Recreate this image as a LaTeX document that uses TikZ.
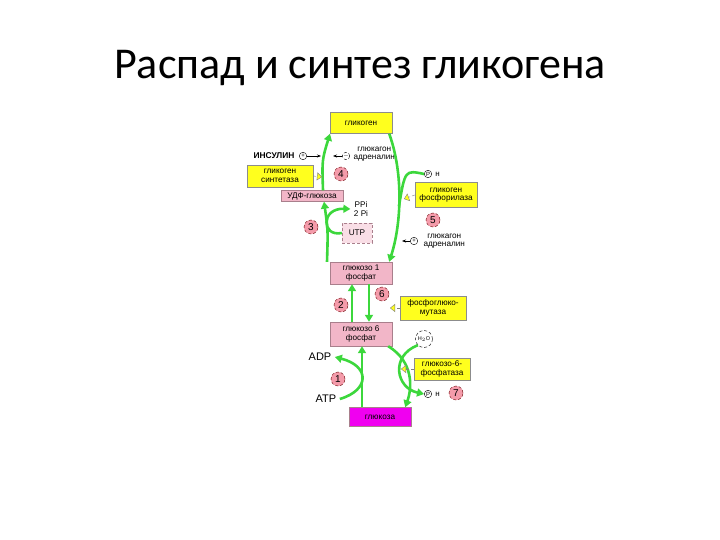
\documentclass[tikz,border=0pt]{standalone}
\usepackage{fontspec}
\setmainfont{Carlito}
\newfontfamily\schemefont{Liberation Sans}
\usetikzlibrary{arrows.meta}
\definecolor{zel}{RGB}{60,215,60}
\definecolor{zhelt}{RGB}{255,255,30}
\definecolor{roz}{RGB}{242,182,200}
\definecolor{malin}{RGB}{240,0,240}
\begin{document}
\begin{tikzpicture}[x=1pt,y=-1pt,
      every node/.style={align=center, font=\schemefont\fontsize{8.2}{8.4}\selectfont},
      zhbox/.style={fill=zhelt, draw=black!45, thin, inner sep=1pt},
      rbox/.style={fill=roz, draw=roz!70!black, thin, inner sep=1pt},
      num/.style={circle, fill=roz!85!red, draw=red!40!black, densely dashed, thin, inner sep=0pt, minimum size=14pt, font=\schemefont\fontsize{10}{10}\selectfont},
      znak/.style={circle, draw, thin, inner sep=0pt, minimum size=7.5pt, font=\schemefont\fontsize{6}{6}\selectfont},
      gr/.style={-{Triangle[length=7pt,width=8pt]}, line width=2.6pt, draw=zel},
      grl/.style={line width=2.6pt, draw=zel},
      zhstrel/.style={-{Triangle[length=5pt,width=8pt,fill=zhelt]}, draw=black!50, densely dashed, thin},
      reg/.style={-{Stealth[length=4pt]}, thick}
    ]
      \useasboundingbox (0,0) rectangle (720,540);

      % Title
      \node (title) at (360,68) {\fontspec{Carlito}\fontsize{44}{48}\selectfont Распад и синтез гликогена};

      % Substances
      \node[zhbox, minimum width=62pt, minimum height=21pt] (glyk) at (361,123) {гликоген};
      \node[rbox, minimum width=62pt, minimum height=11pt] (udpg) at (312,196) {УДФ-глюкоза};
      \node[rbox, fill=roz!45, densely dashed, minimum width=30pt, minimum height=20pt] (utp) at (357,233) {UTP};
      \node (ppi) at (361,209) {PPi\\2 Pi};
      \node[rbox, minimum width=62pt, minimum height=22pt] (g1p) at (361,273) {глюкозо 1\\фосфат};
      \node[rbox, minimum width=62pt, minimum height=24pt] (g6p) at (361,334) {глюкозо 6\\фосфат};
      \node[rbox, fill=malin, minimum width=62pt, minimum height=19pt] (glu) at (380,417) {глюкоза};
      \node (adp) at (320,357) {\fontsize{11}{11}\selectfont ADP};
      \node (atp) at (326,399) {\fontsize{11}{11}\selectfont ATP};
      \node[znak, label={[font=\schemefont\fontsize{8}{8}\selectfont]right:н}] (pi1) at (428,174) {P};
      \node[znak, label={[font=\schemefont\fontsize{8}{8}\selectfont]right:н}] (pi2) at (428,394) {P};
      \node[circle, draw, densely dashed, thin, inner sep=0pt, minimum size=17pt, font=\schemefont\fontsize{5.5}{5.5}\selectfont] (voda) at (424,339) {H$_2$O};

      % Enzymes
      \node[zhbox, minimum width=66pt, minimum height=22pt] (sint) at (280,176) {гликоген\\синтетаза};
      \node[zhbox, minimum width=62pt, minimum height=25pt] (fosf) at (446,195) {гликоген\\фосфорилаза};
      \node[zhbox, minimum width=66pt, minimum height=24pt] (mut) at (433,308) {фосфоглюко-\\мутаза};
      \node[zhbox, minimum width=56pt, minimum height=22pt] (g6f) at (442,369) {глюкозо-6-\\фосфатаза};

      % Numbers
      \node[num] (n1) at (338,379) {1};
      \node[num] (n2) at (341,305) {2};
      \node[num] (n3) at (311,227) {3};
      \node[num] (n4) at (341,174) {4};
      \node[num] (n5) at (433,220) {5};
      \node[num] (n6) at (382,294) {6};
      \node[num] (n7) at (456,393) {7};

      % Hormones
      \node[anchor=east, font=\schemefont\bfseries\fontsize{8.4}{8.4}\selectfont] (ins) at (298,156) {ИНСУЛИН};
      \node[znak] (plus1) at (303,156) {+};
      \node[znak, densely dashed] (minus1) at (346,156) {$-$};
      \node[anchor=west] (gl1) at (350,154) {глюкагон\\адреналин};
      \node[znak] (plus2) at (414,241) {+};
      \node[anchor=west] (gl2) at (420,241) {глюкагон\\адреналин};

      % Points on the green arrows
      \coordinate (c4l) at (321,156);
      \coordinate (c4r) at (333,156);
      \coordinate (c4y) at (322,177);
      \coordinate (c5) at (402,241);
      \coordinate (c5y) at (404,199);
      \coordinate (c5p) at (399,206);
      \coordinate (c6y) at (390,308);
      \coordinate (c7y) at (401,369);

      % Green arrows
      \draw[gr] ([xshift=11pt]udpg.north) .. controls (322,160) .. ([xshift=-31pt]glyk.south);
      \draw[gr] ([xshift=-34pt]g1p.north) .. controls (328,230) .. ([xshift=12pt]udpg.south);
      \draw[gr] (utp.west) .. controls (321,237) and (321,208) .. (ppi.west);
      \draw[gr] ([xshift=-3pt]glyk.south east) .. controls (404,175) and (401,225) .. ([xshift=-3pt]g1p.north east);
      \draw[grl] (pi1.west) .. controls (405,170) .. (c5p);
      \draw[gr] ([xshift=-9pt]g6p.north) -- ([xshift=-9pt]g1p.south);
      \draw[gr] ([xshift=8pt]g1p.south) -- ([xshift=8pt]g6p.north);
      \draw[gr] ([xshift=-18pt]glu.north) -- ([xshift=1pt]g6p.south);
      \draw[gr] (atp.east) .. controls (370,390) and (370,366) .. (adp.east);
      \draw[gr] ([xshift=-4pt]g6p.south east) .. controls (414,362) and (412,388) .. ([xshift=-6pt]glu.north east);
      \draw[gr] (voda.south west) .. controls (390,356) and (396,388) .. (pi2.west);

      % Enzyme arrows
      \draw[zhstrel] (sint.east) -- (c4y);
      \draw[zhstrel] (fosf.west) -- (c5y);
      \draw[zhstrel] (mut.west) -- (c6y);
      \draw[zhstrel] (g6f.west) -- (c7y);

      % Regulation
      \draw[reg] (plus1) -- (c4l);
      \draw[reg] (minus1) -- (c4r);
      \draw[reg] (plus2) -- (c5);
    \end{tikzpicture}
\end{document}
